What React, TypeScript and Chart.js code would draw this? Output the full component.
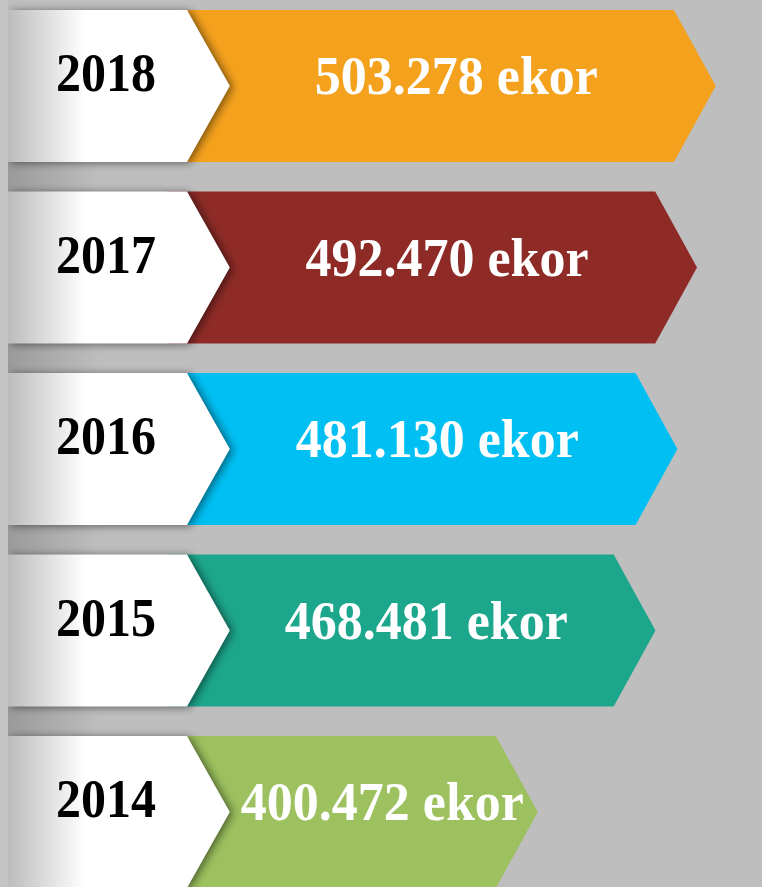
import React, { useEffect, useRef } from "react";
import { Chart, registerables } from "chart.js";

Chart.register(...registerables);

const years = ["2018", "2017", "2016", "2015", "2014"];
const counts = [503278, 492470, 481130, 468481, 400472];
const barColors = ["#F4A11D", "#8E2B27", "#00BFF2", "#1CA68C", "#9CC15E"];
const unit = "ekor";

const W = 762;
const H = 887;

function fmt(n: number): string {
  return String(n).replace(/\B(?=(\d{3})+(?!\d))/g, ".");
}

const arrowRows = {
  id: "arrowRows",
  beforeDraw(chart: any) {
    const ctx = chart.ctx;
    ctx.save();
    ctx.fillStyle = "#bebebe";
    ctx.fillRect(0, 0, chart.width, chart.height);
    ctx.fillStyle = "#c4c4c4";
    ctx.fillRect(0, 0, 8, chart.height);
    const meta = chart.getDatasetMeta(0);
    const first = meta.data[0];
    const top0 = first.y - first.height / 2;
    const g = ctx.createLinearGradient(8, 0, 100, 0);
    g.addColorStop(0, "#9a9a9a");
    g.addColorStop(1, "#bebebe");
    ctx.fillStyle = g;
    ctx.fillRect(8, top0, 92, chart.height - top0);
    ctx.restore();
  },
  beforeDatasetsDraw(chart: any) {
    const ctx = chart.ctx;
    const meta = chart.getDatasetMeta(0);
    const colors = chart.data.datasets[0].backgroundColor;
    const labels = chart.data.labels;
    const values = chart.data.datasets[0].data;
    meta.data.forEach((el: any, i: number) => {
      const p = el.getProps(["x", "y", "height"], true);
      const tip = p.x;
      const cy = p.y;
      const h = p.height;
      const top = cy - h / 2;
      const bot = cy + h / 2;
      const tipLen = h * 0.275;
      const startX = 187;
      const notchTip = startX + tipLen + 1;

      ctx.save();
      ctx.beginPath();
      ctx.moveTo(startX - 20, top);
      ctx.lineTo(tip - tipLen, top);
      ctx.lineTo(tip, cy);
      ctx.lineTo(tip - tipLen, bot);
      ctx.lineTo(startX - 20, bot);
      ctx.closePath();
      ctx.fillStyle = colors[i];
      ctx.fill();

      ctx.save();
      ctx.beginPath();
      ctx.rect(8, top - 20, chart.width, h + 40);
      ctx.clip();
      ctx.beginPath();
      ctx.moveTo(8, top);
      ctx.lineTo(startX, top);
      ctx.lineTo(notchTip, cy);
      ctx.lineTo(startX, bot);
      ctx.lineTo(8, bot);
      ctx.closePath();
      ctx.shadowColor = "rgba(0,0,0,0.5)";
      ctx.shadowBlur = 9;
      ctx.shadowOffsetX = 3;
      ctx.shadowOffsetY = 1;
      const wg = ctx.createLinearGradient(8, 0, 85, 0);
      wg.addColorStop(0, "#bcbcbc");
      wg.addColorStop(1, "#ffffff");
      ctx.fillStyle = wg;
      ctx.fill();
      ctx.restore();

      ctx.save();
      ctx.translate(106, cy - 9);
      ctx.scale(1, 1.1);
      ctx.font = "bold 50px 'Liberation Serif', 'Times New Roman', serif";
      ctx.fillStyle = "#000000";
      ctx.textAlign = "center";
      ctx.textBaseline = "middle";
      ctx.fillText(labels[i], 0, 0);
      ctx.restore();

      ctx.save();
      ctx.font = "bold 52px 'Liberation Serif', 'Times New Roman', serif";
      const text = fmt(values[i]) + " " + unit;
      const tw = ctx.measureText(text).width;
      const cx = Math.max((startX + tip) / 2 + 5, notchTip + 11 + tw / 2);
      ctx.translate(cx, cy - 6);
      ctx.scale(1, 1.05);
      ctx.fillStyle = "#ffffff";
      ctx.textAlign = "center";
      ctx.textBaseline = "middle";
      ctx.fillText(text, 0, 0);
      ctx.restore();

      ctx.restore();
    });
    return false;
  },
};

export default function App() {
  const ref = useRef<HTMLCanvasElement | null>(null);
  useEffect(() => {
    if (!ref.current) return;
    const chart = new Chart(ref.current, {
      type: "bar",
      data: {
        labels: years,
        datasets: [
          {
            data: counts,
            backgroundColor: barColors,
            barThickness: 152,
          },
        ],
      },
      options: {
        indexAxis: "y",
        responsive: false,
        animation: false,
        devicePixelRatio: 1,
        layout: { padding: { top: 86, bottom: 75, left: 0, right: 0 } },
        scales: {
          x: { type: "linear", min: 90000, max: 530000, display: false },
          y: { type: "category", offset: false, display: false },
        },
        plugins: {
          legend: { display: false },
          tooltip: { enabled: false },
        },
      },
      plugins: [arrowRows],
    } as any);
    return () => chart.destroy();
  }, []);
  return (
    <div style={{ position: "fixed", left: 0, top: 0, width: W, height: H, background: "#bebebe" }}>
      <canvas ref={ref} width={W} height={H} style={{ display: "block" }} />
    </div>
  );
}
